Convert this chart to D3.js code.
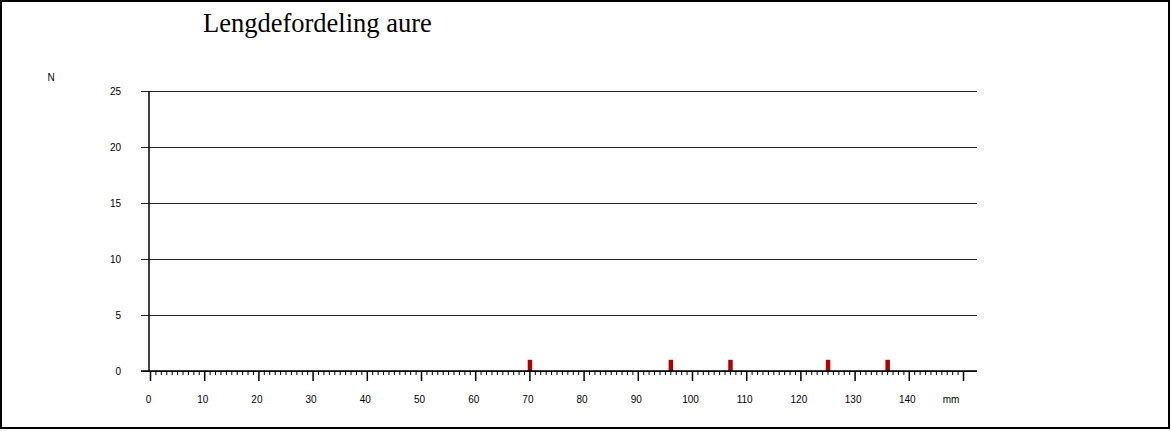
<!DOCTYPE html>
<html>
<head>
<meta charset="utf-8">
<script src="https://cdn.jsdelivr.net/npm/d3@7"></script>
<style>
  body { margin: 0; background: #fff; }
  svg { display: block; }
  .tick text { font-family: "Liberation Sans", Arial, sans-serif; font-size: 10px; fill: #000; }
</style>
</head>
<body>
<svg id="chart"></svg>
<script>
// lengder (mm) og antall fisk
const lengths = [70, 96, 107, 125, 136];
const counts = [1, 1, 1, 1, 1];
const yTicks = [0, 5, 10, 15, 20, 25];
const xMajor = [0, 10, 20, 30, 40, 50, 60, 70, 80, 90, 100, 110, 120, 130, 140, 150];
const xLabels = ["0", "10", "20", "30", "40", "50", "60", "70", "80", "90", "100", "110", "120", "130", "140"];
const title = "Lengdefordeling aure";

const W = 1171, H = 431;
const svg = d3.select("#chart").attr("width", W).attr("height", H);

// ramme
svg.append("rect")
   .attr("x", 1).attr("y", 1)
   .attr("width", 1168).attr("height", 427)
   .attr("fill", "none").attr("stroke", "#000").attr("stroke-width", 2);

const x = d3.scaleLinear().domain([0, 150]).range([150, 963]);
const y = d3.scaleLinear().domain([0, 25]).range([371, 91]);
const gridLeft = 141, gridRight = 977;

// tittel
svg.append("text")
   .attr("x", 203).attr("y", 32)
   .attr("font-family", "'Liberation Serif', 'Times New Roman', serif")
   .attr("font-size", 26.5)
   .text(title);

// y-akse med rutenett
const yAxis = d3.axisLeft(y)
  .tickValues(yTicks)
  .tickSize(-(gridRight - gridLeft))
  .tickPadding(20);

const gy = svg.append("g")
   .attr("transform", `translate(${gridLeft},0)`)
   .call(yAxis);
gy.select(".domain").remove();
gy.selectAll(".tick line").attr("stroke", "#222").attr("stroke-width", 1);

svg.append("line")
   .attr("x1", 149).attr("x2", 149)
   .attr("y1", y(25)).attr("y2", y(0))
   .attr("stroke", "#000").attr("stroke-width", 1.5);

svg.append("text")
   .attr("x", 51).attr("y", 81)
   .attr("text-anchor", "middle")
   .attr("font-family", "'Liberation Sans', Arial, sans-serif")
   .attr("font-size", 10)
   .text("N");

// x-akse: små streker for hver mm
const minor = d3.range(0, 151).filter(d => d % 10 !== 0);
const gMinor = svg.append("g")
   .attr("transform", `translate(0,${y(0)})`)
   .call(d3.axisBottom(x).tickValues(minor).tickSize(4).tickFormat(""));
gMinor.select(".domain").remove();

const gx = svg.append("g")
   .attr("transform", `translate(0,${y(0)})`)
   .call(d3.axisBottom(x)
     .tickValues(xMajor)
     .tickSize(10)
     .tickPadding(15)
     .tickFormat((d, i) => xLabels[i] || ""));
gx.select(".domain").remove();
gx.selectAll(".tick line").attr("stroke-width", 1.5);
gx.selectAll(".tick text").attr("dx", -2);

svg.append("text")
   .attr("x", 951).attr("y", 403)
   .attr("text-anchor", "middle")
   .attr("font-family", "'Liberation Sans', Arial, sans-serif")
   .attr("font-size", 10)
   .text("mm");

// søyler
svg.selectAll(".bar")
   .data(lengths)
   .enter()
   .append("rect")
   .attr("class", "bar")
   .attr("x", d => x(d) - 1.7)
   .attr("y", (d, i) => y(counts[i]))
   .attr("width", 4.5)
   .attr("height", (d, i) => y(0) - y(counts[i]))
   .attr("fill", "#b00000");

// nullinje over søylene
svg.append("line")
   .attr("x1", gridLeft).attr("x2", gridRight)
   .attr("y1", y(0)).attr("y2", y(0))
   .attr("stroke", "#000").attr("stroke-width", 1.5);
</script>
</body>
</html>
